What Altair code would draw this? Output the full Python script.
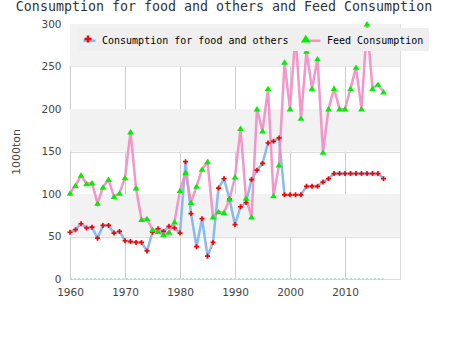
import altair as alt
import pandas as pd

years = list(range(1960, 2018))
food = [55, 58, 65, 60, 61, 48, 63, 63, 54, 56,
        45, 44, 43, 43, 33, 55, 59, 56, 62, 60,
        54, 138, 77, 38, 71, 27, 43, 107, 118, 94,
        64, 85, 90, 117, 128, 136, 160, 162, 166, 99,
        99, 99, 99, 109, 109, 109, 114, 118, 124, 124,
        124, 124, 124, 124, 124, 124, 124, 118]
feed = [101, 110, 122, 112, 113, 89, 108, 117, 97, 101,
        119, 173, 107, 70, 71, 58, 56, 52, 55, 67,
        104, 125, 90, 109, 129, 138, 73, 79, 78, 94,
        120, 177, 95, 73, 200, 174, 224, 98, 134, 255,
        200, 289, 189, 268, 224, 259, 149, 200, 224, 200,
        200, 224, 249, 200, 300, 224, 229, 220]
series_names = ["Consumption for food and others", "Feed Consumption"]
band_lo = [50, 150, 250]
band_hi = [100, 200, 300]

n = len(years)
df = pd.DataFrame({
    "year": years * 2,
    "value": food + feed,
    "series": [series_names[0]] * n + [series_names[1]] * n,
})
df["series_line"] = df["series"]
df_food = df[df["series"] == series_names[0]]
bands = pd.DataFrame({"lo": band_lo, "hi": band_hi})

MONO = "DejaVu Sans Mono"
x_scale = alt.Scale(domain=[1960, 2020], nice=False, zero=False)
y_scale = alt.Scale(domain=[0, 300], nice=False)

x_axis = alt.Axis(values=[1960, 1970, 1980, 1990, 2000, 2010], format="d", title=None,
                  grid=True, gridColor="#cccccc", ticks=False, domain=False,
                  labelFlush=False, labelOverlap=False,
                  labelPadding=8, labelFontSize=10.5, labelColor="#444444",
                  labelFont="DejaVu Sans")
y_axis = alt.Axis(values=[0, 50, 100, 150, 200, 250, 300], title="1000ton",
                  grid=True, gridColor="#dddddd", ticks=False, domain=False,
                  labelFlush=False, labelOverlap=False,
                  labelPadding=9, labelFontSize=10.5, labelColor="#444444",
                  labelFont="DejaVu Sans", titleFont="DejaVu Sans",
                  titleFontSize=11, titleFontWeight="normal", titleColor="#444444",
                  titlePadding=19)

band_layer = alt.Chart(bands).mark_rect(color="#f2f2f2").encode(
    x=alt.X(datum=1960, type="quantitative", scale=x_scale, axis=x_axis),
    x2=alt.X2(datum=2020),
    y=alt.Y("lo:Q", scale=y_scale, axis=y_axis),
    y2="hi:Q",
)

zero_layer = alt.Chart(df_food).mark_line(color="#9fe0c8", strokeWidth=1.5,
                                          strokeDash=[2, 2]).encode(
    x=alt.X("year:Q", scale=x_scale),
    y=alt.Y(datum=0, type="quantitative"),
)

legend_common = dict(orient="none", legendX=7, legendY=4, direction="horizontal",
                     title=None, labelFont=MONO, labelFontSize=10, labelLimit=0,
                     symbolSize=144, labelOffset=5, padding=5)

line_layer = alt.Chart(df).mark_line(strokeWidth=2.5, opacity=0.9).encode(
    x=alt.X("year:Q", scale=x_scale),
    y=alt.Y("value:Q", scale=y_scale),
    stroke=alt.Stroke("series_line:N",
                      scale=alt.Scale(range=["#7cb5ec", "#f28cc4"]),
                      legend=alt.Legend(symbolType="stroke", symbolStrokeWidth=2.5,
                                        labelColor="#000000", fillColor="#efefef",
                                        columnPadding=14, **legend_common)),
)

cross_path = "M-0.6,-0.2H-0.2V-0.6H0.2V-0.2H0.6V0.2H0.2V0.6H-0.2V0.2H-0.6Z"
tri_path = "M0,-0.7L0.8,0.6L-0.8,0.6Z"
point_legend = alt.Legend(labelExpr="''", columnPadding=200.7,
                          symbolStrokeWidth=0, symbolOpacity=1,
                          **legend_common)
point_layer = alt.Chart(df).mark_point(filled=True, size=70, opacity=1,
                                       strokeWidth=0).encode(
    x=alt.X("year:Q", scale=x_scale),
    y=alt.Y("value:Q", scale=y_scale),
    fill=alt.Fill("series:N", scale=alt.Scale(range=["#ff0000", "#00ee00"]),
                  legend=point_legend),
    shape=alt.Shape("series:N", scale=alt.Scale(range=[cross_path, tri_path]),
                    legend=point_legend),
)

chart = alt.layer(band_layer, zero_layer, line_layer, point_layer).properties(
    width=330, height=255,
    autosize=alt.AutoSizeParams(type="none"),
    padding={"left": 70, "top": 24, "right": 50, "bottom": 71},
    title=alt.TitleParams("Consumption for food and others and Feed Consumption",
                          font=MONO, fontSize=13.3, fontWeight="normal",
                          color="#333333", anchor="middle", dx=-11, offset=6),
).configure_view(stroke="#cccccc", strokeWidth=1).configure(background="white")

chart.save("out.html", embed_options={"renderer": "svg", "actions": False})
